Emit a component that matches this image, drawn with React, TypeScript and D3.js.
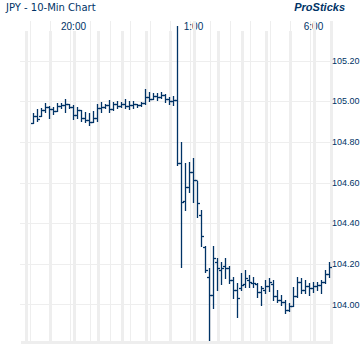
import React from 'react';
import * as d3 from 'd3';

// 10-minute OHLC bars, first bar at 18:20
const startTime = new Date(2000, 0, 1, 18, 20);
const barMinutes = 10;

const opens = [
  104.895, 104.925, 104.925, 104.955, 104.97, 104.96, 104.95, 104.975, 104.98, 104.985,
  104.97, 104.93, 104.955, 104.92, 104.91, 104.9, 104.92, 104.965, 104.97, 104.98,
  104.96, 104.985, 104.975, 104.985, 104.975, 104.98, 104.985, 104.98, 104.99, 105.02,
  105.01, 105.025, 105.02, 105.03, 105.01, 105.0, 105.005, 104.695, 104.51, 104.58,
  104.65, 104.61, 104.44, 104.28, 104.135, 104.045, 104.21, 104.17, 104.19, 104.18,
  104.12, 104.07, 104.08, 104.1, 104.12, 104.105, 104.1, 104.06, 104.07, 104.09,
  104.1, 104.04, 104.02, 104.01, 103.97, 103.99, 104.04, 104.11, 104.07, 104.09,
  104.08, 104.09, 104.095, 104.11, 104.15,
];
const highs = [
  104.94, 104.96, 104.965, 104.99, 104.975, 104.97, 104.99, 104.99, 105.01, 104.985,
  104.98, 104.97, 104.955, 104.945, 104.94, 104.95, 104.985, 104.995, 104.985, 105.005,
  104.995, 105.0, 104.995, 105.01, 105.0, 105.0, 104.985, 104.995, 105.06, 105.045,
  105.04, 105.04, 105.045, 105.035, 105.02, 105.025, 105.37, 104.8, 104.695, 104.7,
  104.72, 104.605, 104.465, 104.285, 104.18, 104.285, 104.23, 104.21, 104.23, 104.19,
  104.135, 104.105, 104.155, 104.17, 104.145, 104.135, 104.105, 104.09, 104.12, 104.13,
  104.12, 104.07, 104.045, 104.02, 104.005, 104.085, 104.135, 104.13, 104.12, 104.105,
  104.11, 104.11, 104.12, 104.17, 104.21,
];
const lows = [
  104.895, 104.905, 104.925, 104.945, 104.92, 104.935, 104.95, 104.965, 104.945, 104.965,
  104.915, 104.92, 104.905, 104.9, 104.885, 104.9, 104.905, 104.945, 104.965, 104.945,
  104.955, 104.965, 104.97, 104.965, 104.96, 104.965, 104.97, 104.975, 104.985, 105.0,
  105.01, 105.005, 105.015, 104.995, 104.985, 104.98, 104.685, 104.185, 104.465, 104.555,
  104.505, 104.43, 104.285, 104.16, 103.825, 103.98, 104.07, 104.1, 104.13, 104.105,
  104.03, 103.94, 104.07, 104.085, 104.085, 104.085, 104.035, 103.995, 104.055, 104.065,
  104.02, 104.01, 103.995, 103.96, 103.965, 103.99, 104.035, 104.055, 104.055, 104.045,
  104.06, 104.07, 104.055, 104.105, 104.135,
];
const closes = [
  104.925, 104.915, 104.955, 104.97, 104.96, 104.95, 104.975, 104.98, 104.985, 104.97,
  104.93, 104.955, 104.92, 104.91, 104.9, 104.92, 104.965, 104.97, 104.98, 104.96,
  104.985, 104.975, 104.985, 104.975, 104.98, 104.985, 104.98, 104.99, 105.02, 105.01,
  105.025, 105.02, 105.03, 105.01, 105.0, 105.005, 104.695, 104.505, 104.58, 104.65,
  104.61, 104.5, 104.335, 104.17, 104.045, 104.23, 104.18, 104.18, 104.18, 104.12,
  104.07, 104.03, 104.095, 104.13, 104.11, 104.105, 104.06, 104.08, 104.09, 104.11,
  104.04, 104.02, 104.01, 103.97, 103.99, 104.04, 104.11, 104.07, 104.09, 104.08,
  104.09, 104.095, 104.11, 104.15, 104.185,
];

const priceTicks = [104.0, 104.2, 104.4, 104.6, 104.8, 105.0, 105.2];
const timeLabels = ['20:00', '1:00', '6:00'];

const navy = '#003366';
const grid = '#eeeeee';
const sans = "'Liberation Sans', Arial, sans-serif";

export default function App() {
  const times = opens.map((_, i) => d3.timeMinute.offset(startTime, i * barMinutes));
  const x = d3.scaleTime()
    .domain([times[0], times[times.length - 1]])
    .range([33.5, 329.5]);
  const y = d3.scaleLinear().domain([103.8, 105.4]).range([345, 20]);

  const left = 20, right = 333, top = 21, bottom = 344;
  const hours = d3.timeHour.range(d3.timeHour.floor(times[0]), times[times.length - 1]);
  const fmt = d3.timeFormat('%-H:%M');
  const thin = d3.range(30, right, 20);
  const py = (v: number) => Math.round(y(v)) + 0.5;

  return (
    <svg width={360} height={360} style={{ position: 'absolute', left: 0, top: 0, background: '#fff' }}>
      <text x={6} y={11} fontFamily="'DejaVu Sans', Verdana, sans-serif" fontSize={10} fill={navy}>JPY - 10-Min Chart</text>
      <text x={345} y={11} fontFamily={sans} fontSize={11} fontWeight="bold" fontStyle="italic" fill={navy} textAnchor="end">ProSticks</text>

      {thin.map(v => (
        <line key={'t' + v} x1={v + 0.5} x2={v + 0.5} y1={top} y2={bottom} stroke={grid} />
      ))}
      {priceTicks.map(p => (
        <line key={'h' + p} x1={left} x2={right} y1={py(p)} y2={py(p)} stroke={grid} />
      ))}

      {hours.map(h => {
        const label = fmt(h);
        const shown = timeLabels.includes(label);
        const bandTop = shown && label !== timeLabels[0] ? top : 31;
        return (
          <g key={'b' + label}>
            {shown && (
              <text x={x(h)} y={30} fontFamily={sans} fontSize={10} fill={navy} textAnchor="middle">{label}</text>
            )}
            <rect x={x(h) - 0.5} y={bandTop} width={3} height={bottom - bandTop} fill={grid} />
          </g>
        );
      })}
      <rect x={330} y={top} width={3} height={bottom - top} fill={grid} />
      <rect x={21} y={341} width={312} height={3} fill={grid} />

      {priceTicks.map(p => (
        <text key={'l' + p} x={332} y={y(p)} dy="0.35em" fontFamily={sans} fontSize={9} fill={navy}>{p.toFixed(2)}</text>
      ))}

      <g stroke={navy} strokeWidth={1.3} fill="none">
        {times.map((t, i) => {
          const xs = Math.round(x(t) - 0.5) + 0.5;
          return (
            <g key={'bar' + i}>
              <line x1={xs} x2={xs} y1={Math.round(y(highs[i]))} y2={Math.round(y(lows[i])) + 1} />
              <line x1={xs - 2.5} x2={xs} y1={py(opens[i])} y2={py(opens[i])} />
              <line x1={xs} x2={xs + 2.5} y1={py(closes[i])} y2={py(closes[i])} />
            </g>
          );
        })}
      </g>
    </svg>
  );
}
